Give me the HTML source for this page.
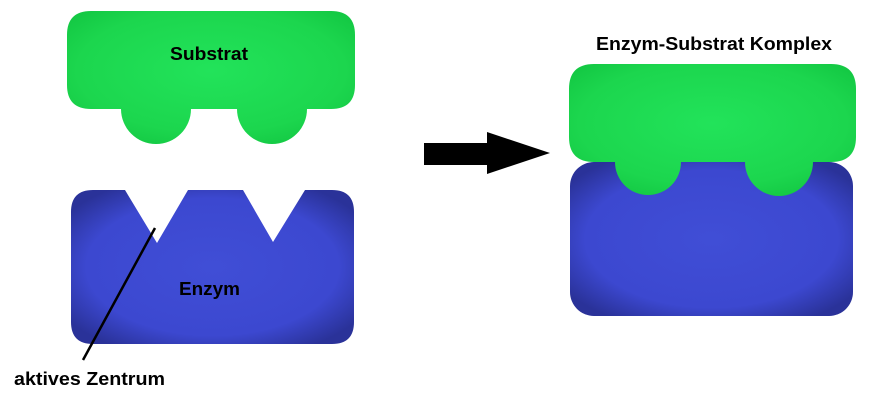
<!DOCTYPE html>
<html><head><meta charset="utf-8"><style>
html,body{margin:0;padding:0;background:#fff;}
svg{display:block;}
text{font-family:"Liberation Sans",sans-serif;font-weight:bold;}
</style></head><body>
<svg width="888" height="404" viewBox="0 0 888 404" xmlns="http://www.w3.org/2000/svg">
<defs>
<radialGradient id="g" cx="50%" cy="45%" r="62%">
<stop offset="0" stop-color="#22e35a"/><stop offset="0.75" stop-color="#1cd64e"/><stop offset="1" stop-color="#14c944"/>
</radialGradient>
<radialGradient id="b" cx="50%" cy="50%" r="62%">
<stop offset="0" stop-color="#404ed6"/><stop offset="0.72" stop-color="#3c48d0"/><stop offset="1" stop-color="#2a3299"/>
</radialGradient>
</defs>
<!-- Substrat -->
<path fill="url(#g)" d="M91,11 L331,11 Q355,11 355,35 L355,85 Q355,109 331,109 L307,109 A35,35 0 0 1 237,109 L191,109 A35,35 0 0 1 121,109 L91,109 Q67,109 67,85 L67,35 Q67,11 91,11 Z"/>
<text x="170" y="60" font-size="18" textLength="78" lengthAdjust="spacingAndGlyphs">Substrat</text>
<!-- Enzym -->
<path fill="url(#b)" d="M93,190 L125,190 L157,243 L188,190 L243,190 L273,242 L305,190 L332,190 Q354,190 354,212 L354,322 Q354,344 332,344 L93,344 Q71,344 71,322 L71,212 Q71,190 93,190 Z"/>
<text x="179" y="295" font-size="18" textLength="61" lengthAdjust="spacingAndGlyphs">Enzym</text>
<line x1="155" y1="228" x2="83" y2="360" stroke="#000" stroke-width="2.5"/>
<text x="14" y="385" font-size="18" textLength="151" lengthAdjust="spacingAndGlyphs">aktives Zentrum</text>
<!-- Arrow -->
<rect x="424" y="143" width="64" height="22" fill="#000"/>
<polygon points="487,132 550,153 487,174" fill="#000"/>
<!-- Komplex -->
<text x="596" y="50" font-size="18" textLength="236" lengthAdjust="spacingAndGlyphs">Enzym-Substrat Komplex</text>
<rect x="570" y="162" width="283" height="154" rx="24" fill="url(#b)"/>
<path fill="url(#g)" d="M594,64 L831,64 Q856,64 856,89 L856,137 Q856,162 831,162 L813,162 A34,34 0 0 1 745,162 L681,162 A33,33 0 0 1 615,162 L594,162 Q569,162 569,137 L569,89 Q569,64 594,64 Z"/>
</svg>
</body></html>
